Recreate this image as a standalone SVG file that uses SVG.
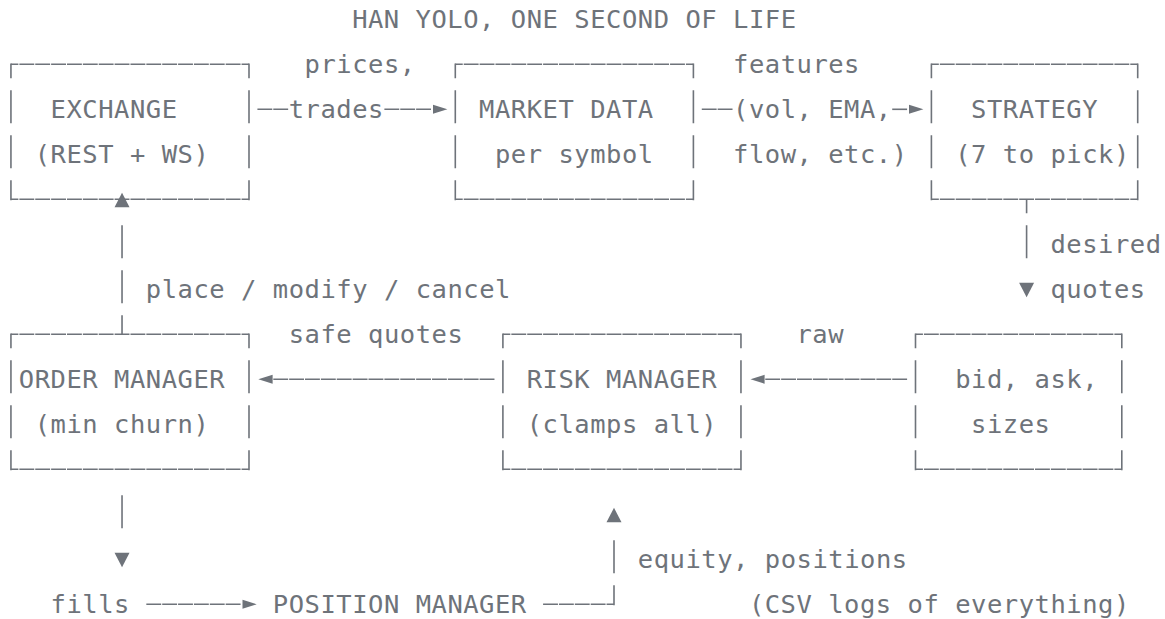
<svg xmlns="http://www.w3.org/2000/svg" width="1165" height="619" viewBox="0 0 1165 619">
<style>
text { font-family: "DejaVu Sans Mono", "Liberation Mono", monospace; font-size: 25.5px; letter-spacing: 0.52px; fill: #6e737a; }
.v { fill: none; stroke: #6e737a; stroke-width: 1.6; }
.hc { fill: none; stroke: #6e737a; stroke-width: 1.6; stroke-dasharray: 14.87 1; stroke-dashoffset: 7.435; }
.h { fill: none; stroke: #6e737a; stroke-width: 1.6; stroke-dasharray: 14.87 1; stroke-dashoffset: 15.37; }
.ah { fill: #6e737a; }
</style>
<rect width="1165" height="619" fill="#ffffff"/>

<g id="title">
<text x="352.14" y="28.3">HAN YOLO, ONE SECOND OF LIFE</text>
</g>

<g id="exchange">
<line class="hc" x1="10.94" y1="64.3" x2="249" y2="64.3"/>
<line class="hc" x1="10.94" y1="199.3" x2="249" y2="199.3"/>
<path class="v" d="M10.94 63.45V78.3M10.94 90.3V123.3M10.94 135.3V168.3M10.94 180.3V200.15M249 63.45V78.3M249 90.3V123.3M249 135.3V168.3M249 180.3V200.15"/>
<text x="50.61" y="118.3">EXCHANGE</text>
<text x="34.74" y="163.3">(REST + WS)</text>
</g>

<g id="market-data">
<line class="hc" x1="455.3" y1="64.3" x2="693.4" y2="64.3"/>
<line class="hc" x1="455.3" y1="199.3" x2="693.4" y2="199.3"/>
<path class="v" d="M455.3 63.45V78.3M455.3 90.3V123.3M455.3 135.3V168.3M455.3 180.3V200.15M693.4 63.45V78.3M693.4 90.3V123.3M693.4 135.3V168.3M693.4 180.3V200.15"/>
<text x="479.1" y="118.3">MARKET DATA</text>
<text x="494.97" y="163.3">per symbol</text>
</g>

<g id="strategy">
<line class="hc" x1="931.4" y1="64.3" x2="1137.7" y2="64.3"/>
<line class="hc" x1="931.4" y1="199.3" x2="1137.7" y2="199.3"/>
<path class="v" d="M931.4 63.45V78.3M931.4 90.3V123.3M931.4 135.3V168.3M931.4 180.3V200.15M1137.7 63.45V78.3M1137.7 90.3V123.3M1137.7 135.3V168.3M1137.7 180.3V200.15"/>
<text x="971.07" y="118.3">STRATEGY</text>
<text x="955.2" y="163.3">(7 to pick)</text>
</g>

<g id="order-manager">
<line class="hc" x1="10.94" y1="334.3" x2="249" y2="334.3"/>
<line class="hc" x1="10.94" y1="469.3" x2="249" y2="469.3"/>
<path class="v" d="M10.94 333.45V348.3M10.94 360.3V393.3M10.94 405.3V438.3M10.94 450.3V470.15M249 333.45V348.3M249 360.3V393.3M249 405.3V438.3M249 450.3V470.15"/>
<text x="18.87" y="388.3">ORDER MANAGER</text>
<text x="34.74" y="433.3">(min churn)</text>
</g>

<g id="risk-manager">
<line class="hc" x1="502.9" y1="334.3" x2="740.96" y2="334.3"/>
<line class="hc" x1="502.9" y1="469.3" x2="740.96" y2="469.3"/>
<path class="v" d="M502.9 333.45V348.3M502.9 360.3V393.3M502.9 405.3V438.3M502.9 450.3V470.15M740.96 333.45V348.3M740.96 360.3V393.3M740.96 405.3V438.3M740.96 450.3V470.15"/>
<text x="526.71" y="388.3">RISK MANAGER</text>
<text x="526.71" y="433.3">(clamps all)</text>
</g>

<g id="quote-builder">
<line class="hc" x1="915.5" y1="334.3" x2="1121.8" y2="334.3"/>
<line class="hc" x1="915.5" y1="469.3" x2="1121.8" y2="469.3"/>
<path class="v" d="M915.5 333.45V348.3M915.5 360.3V393.3M915.5 405.3V438.3M915.5 450.3V470.15M1121.8 333.45V348.3M1121.8 360.3V393.3M1121.8 405.3V438.3M1121.8 450.3V470.15"/>
<text x="955.2" y="388.3">bid, ask,</text>
<text x="971.07" y="433.3">sizes</text>
</g>

<g id="position-manager">
<text x="272.79" y="613.3">POSITION MANAGER</text>
</g>

<g id="csv-note">
<text x="748.89" y="613.3">(CSV logs of everything)</text>
</g>

<g id="connectors">
<!-- exchange -> market data -->
<line class="h" x1="256.92" y1="109.3" x2="288.66" y2="109.3"/>
<line class="h" x1="383.88" y1="109.3" x2="431.49" y2="109.3"/>
<polygon class="ah" points="433,104.8 447.4,109.3 433,113.8"/>
<text x="304.53" y="73.3">prices,</text>
<text x="288.66" y="118.3">trades</text>

<!-- market data -> strategy -->
<line class="h" x1="701.28" y1="109.3" x2="733.02" y2="109.3"/>
<line class="h" x1="891.72" y1="109.3" x2="907.59" y2="109.3"/>
<polygon class="ah" points="909,104.8 923.4,109.3 909,113.8"/>
<text x="733.02" y="73.3">features</text>
<text x="733.02" y="118.3">(vol, EMA,</text>
<text x="733.02" y="163.3">flow, etc.)</text>

<!-- strategy -> quote builder -->
<path class="v" d="M1026.6 199.3V213.3M1026.6 225.3V258.3"/>
<polygon class="ah" points="1019.1,282.8 1034.1,282.8 1026.6,297.3"/>
<text x="1050.42" y="253.3">desired</text>
<text x="1050.42" y="298.3">quotes</text>

<!-- quote builder -> risk manager -->
<line class="h" x1="764.76" y1="379.3" x2="907.59" y2="379.3"/>
<polygon class="ah" points="750.5,379.3 764.6,374.8 764.6,383.8"/>
<text x="796.5" y="343.3">raw</text>

<!-- risk manager -> order manager -->
<line class="h" x1="272.79" y1="379.3" x2="494.97" y2="379.3"/>
<polygon class="ah" points="258.3,379.3 272.6,374.8 272.6,383.8"/>
<text x="288.66" y="343.3">safe quotes</text>

<!-- order manager -> exchange -->
<path class="v" d="M122.03 315.3V334.3M122.03 270.3V303.3M122.03 225.3V258.3"/>
<polygon class="ah" points="122.03,192.8 129.53,207.3 114.53,207.3"/>
<text x="145.83" y="298.3">place / modify / cancel</text>

<!-- order manager -> fills -->
<path class="v" d="M122.03 495.3V528.3"/>
<polygon class="ah" points="114.53,552.8 129.53,552.8 122.03,567.3"/>
<text x="50.61" y="613.3">fills</text>

<!-- fills -> position manager -->
<line class="h" x1="145.83" y1="604.3" x2="241.05" y2="604.3"/>
<polygon class="ah" points="242.5,599.8 256.7,604.3 242.5,608.8"/>

<!-- position manager -> risk manager -->
<line class="h" x1="542.58" y1="604.3" x2="614" y2="604.3"/>
<path class="v" d="M614 605.15V585.3M614 573.3V540.3"/>
<polygon class="ah" points="614,507.8 621.5,522.3 606.5,522.3"/>
<text x="637.8" y="568.3">equity, positions</text>
</g>
</svg>
